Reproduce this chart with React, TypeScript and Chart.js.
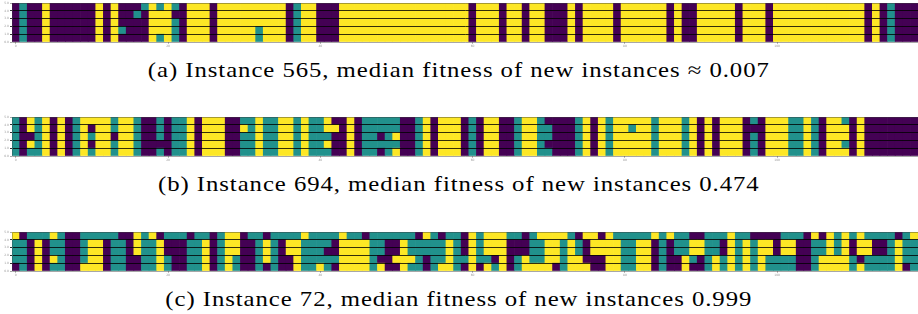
import React, { useEffect, useRef, useState } from "react";
import { Chart, registerables } from "chart.js";

Chart.register(...registerables);

// 0 = purple, 1 = teal, 2 = yellow ; each string is one row (top to bottom), one char per column
const rowsA = [
  "0100200000" + "0202000121" + "2102220222" + "2222220122" + "0002222222" + "2222222222" + "0222022022" + "0002022220" + "2222220200" + "2222202220" + "2222222222" + "220201000",
  "0100200000" + "0202001022" + "2002220222" + "2222220122" + "0002222222" + "2222222222" + "0222022022" + "0002022220" + "2222220200" + "2222202220" + "2222222222" + "220201000",
  "0100200000" + "0202000022" + "2102220222" + "2222220122" + "0002222222" + "2222222222" + "0222022022" + "0002022220" + "2222220200" + "2222202220" + "2222222222" + "220201000",
  "0100200000" + "0202100022" + "2102220222" + "2212220122" + "0002222222" + "2222222222" + "0222022022" + "0002022220" + "2222220200" + "2222202220" + "2222222222" + "220201000",
  "0100200000" + "0202000021" + "2102220222" + "2212220122" + "0002222222" + "2222222222" + "0222022022" + "0002022220" + "2222220200" + "2222202220" + "2222222222" + "220201000",
];

const rowsB = [
  "1021202012" + "2221221001" + "0112022200" + "1121122121" + "1200201111" + "1001202220" + "1022001221" + "0000120212" + "2222122212" + "0202220102" + "2211210221" + "020000000",
  "1021202012" + "0221221001" + "0112022200" + "2121122121" + "1220201111" + "1001202220" + "1022001221" + "1000120212" + "2122122212" + "0202220002" + "2211210222" + "020000000",
  "1001202012" + "1220221001" + "0112022200" + "1121122121" + "1100201101" + "2001202220" + "1022001221" + "1000120212" + "2222122212" + "0202220102" + "2211210222" + "020000000",
  "1021202012" + "0221221000" + "0112022200" + "1121122121" + "1200201111" + "1001202220" + "1022001221" + "0000120212" + "2222122212" + "0202220102" + "2211210221" + "020000000",
  "1011202012" + "1221221001" + "0112022200" + "1121122121" + "1100201101" + "2001202220" + "1022001221" + "1000120212" + "2222122212" + "0202220102" + "2211210222" + "020000000",
];

const rowsC = [
  "2011121001" + "1111002120" + "1110110122" + "0110111121" + "1112110111" + "1110210110" + "2122211012" + "2221022021" + "1111212110" + "0111211000" + "0111020212" + "121111012",
  "1102011001" + "2201102112" + "0001120122" + "0012102211" + "1102222110" + "0211111210" + "2122200011" + "2212102222" + "1122010112" + "2110212122" + "0220011212" + "022001211",
  "1102011001" + "2201102112" + "0001120122" + "0012102211" + "1002222110" + "0211111210" + "2122200011" + "2212102222" + "1122010112" + "2110212122" + "0220011212" + "022001211",
  "1102021001" + "2201100112" + "1001120121" + "0012100211" + "1112222100" + "2221011211" + "2110201211" + "2212200022" + "1122010021" + "0121212121" + "1110012222" + "101111211",
  "0102011002" + "2201100112" + "1001120121" + "0010100211" + "2102222120" + "0211012210" + "2021201222" + "2012220022" + "1122010020" + "0121212121" + "1110012222" + "121111201",
];

const xTickLabels = ["0", "20", "40", "60", "80", "100"];
const yTickLabels = ["0.0", "1.0", "2.0", "3.0", "4.0", "5.0"];

const captionA = "(a) Instance 565, median fitness of new instances \u2248 0.007";
const captionB = "(b) Instance 694, median fitness of new instances 0.474";
const captionC = "(c) Instance 72, median fitness of new instances 0.999";

const palette = ["#440154", "#21918c", "#fde725"];

const W = 918;
const CANVAS_H = 50;
const CAPTION_FONT = "'Liberation Serif'";
const CAPTION_SIZE = 21;
const CAPTION_SPACING = 0.8;
const CAPTION_TARGET_A = 622;

function Heatmap({ rows, top }: { rows: string[]; top: number }) {
  const ref = useRef<HTMLCanvasElement | null>(null);
  useEffect(() => {
    const nCols = rows[0].length;
    const labels = Array.from({ length: nCols }, (_, i) => String(i));
    const datasets = rows
      .slice()
      .reverse()
      .map((r, k) => ({
        label: "row " + k,
        data: r.split("").map(() => 1),
        backgroundColor: r.split("").map((c) => palette[Number(c)]),
        borderWidth: 0,
        barPercentage: 1,
        categoryPercentage: 1,
      }));
    const chart = new Chart(ref.current as HTMLCanvasElement, {
      type: "bar",
      data: { labels, datasets },
      options: {
        animation: false,
        responsive: false,
        devicePixelRatio: 1,
        layout: { padding: { top: 3, left: 0, right: 0, bottom: 0 } },
        plugins: { legend: { display: false }, tooltip: { enabled: false }, title: { display: false } },
        scales: {
          x: {
            type: "category",
            stacked: true,
            offset: true,
            afterFit: (s: any) => {
              s.height = 8;
            },
            grid: {
              display: true,
              offset: false,
              drawOnChartArea: false,
              drawTicks: true,
              tickLength: 2,
              color: (ctx: any) => (xTickLabels.includes(String(ctx.index)) ? "#bbbbbb" : "rgba(0,0,0,0)"),
            },
            border: { display: false },
            ticks: {
              autoSkip: false,
              maxRotation: 0,
              padding: 0,
              font: { size: 3, family: "DejaVu Sans" },
              color: "#999999",
              callback: (_v: any, i: number) => (xTickLabels.includes(String(i)) ? String(i) : ""),
            },
          },
          y: {
            type: "linear",
            stacked: true,
            min: 0,
            max: 5,
            afterFit: (s: any) => {
              s.width = 12;
            },
            grid: {
              z: 1,
              color: (ctx: any) =>
                ctx.tick && (ctx.tick.value === 0 || ctx.tick.value === 5) ? "rgba(60,60,60,0.45)" : "rgba(0,0,0,0.8)",
              lineWidth: 1,
              tickLength: 2,
            },
            border: { display: true, color: "rgba(60,60,60,0.35)", z: 1 },
            ticks: {
              stepSize: 1,
              padding: 1,
              font: { size: 3, family: "DejaVu Sans" },
              color: "#999999",
              callback: (v: any) => yTickLabels[Number(v)] ?? "",
            },
          },
        },
      },
    });
    return () => chart.destroy();
  }, [rows]);
  return (
    <canvas
      ref={ref}
      width={W}
      height={CANVAS_H}
      style={{ position: "absolute", left: 0, top, width: W, height: CANVAS_H, display: "block" }}
    />
  );
}

function useCaptionScale() {
  const [scale, setScale] = useState(1);
  useEffect(() => {
    const c = document.createElement("canvas");
    const ctx = c.getContext("2d");
    if (!ctx) return;
    ctx.font = `${CAPTION_SIZE}px ${CAPTION_FONT}`;
    const w = ctx.measureText(captionA).width + CAPTION_SPACING * captionA.length;
    setScale(CAPTION_TARGET_A / w);
  }, []);
  return scale;
}

function Caption({ text, top, scale }: { text: string; top: number; scale: number }) {
  return (
    <div
      style={{
        position: "absolute",
        left: 0,
        top,
        width: W,
        textAlign: "center",
        fontFamily: CAPTION_FONT,
        fontSize: CAPTION_SIZE,
        lineHeight: CAPTION_SIZE + "px",
        letterSpacing: CAPTION_SPACING + "px",
        color: "#000",
        whiteSpace: "nowrap",
        transform: `scaleX(${scale})`,
        transformOrigin: "460px 50%",
      }}
    >
      {text}
    </div>
  );
}

export default function App() {
  const scale = useCaptionScale();
  return (
    <div
      style={{
        position: "fixed",
        left: 0,
        top: 0,
        width: W,
        height: 314,
        background: "#ffffff",
        overflow: "hidden",
      }}
    >
      <Heatmap rows={rowsA} top={0} />
      <Caption text={captionA} top={59.5} scale={scale} />
      <Heatmap rows={rowsB} top={114} />
      <Caption text={captionB} top={174} scale={scale} />
      <Heatmap rows={rowsC} top={229} />
      <Caption text={captionC} top={288.5} scale={scale} />
    </div>
  );
}
